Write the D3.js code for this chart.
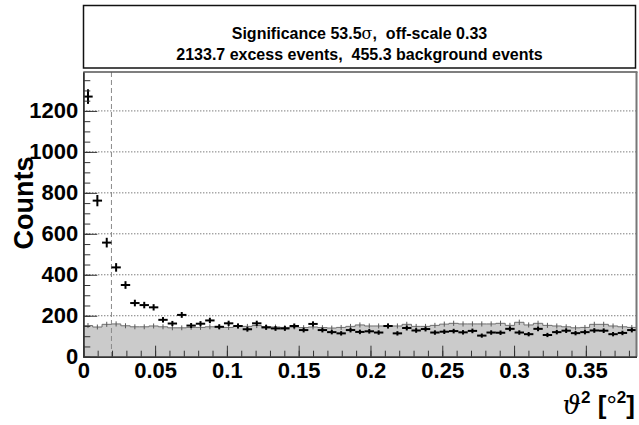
<!DOCTYPE html>
<html>
<head>
<meta charset="utf-8">
<script src="https://cdn.jsdelivr.net/npm/d3@7"></script>
<style>
  html, body { margin: 0; padding: 0; background: #fff; }
  svg { display: block; }
  text { font-family: "Liberation Sans", Arial, Helvetica, sans-serif; font-weight: bold; fill: #000; white-space: pre; }
</style>
</head>
<body>
<svg id="chart" width="639" height="425"></svg>
<script>
// θ² distribution: ON events (crosses) over the scaled OFF background (grey histogram)
const binWidth = 0.00653;   // deg² per bin
const onCounts = [
  1270, 762, 557, 436, 350, 262, 252, 241, 180, 162,
  204, 152, 161, 177, 146, 163, 150, 134, 163, 143,
  138, 138, 150, 130, 160, 130, 120, 114, 130, 121,
  124, 118, 150, 114, 140, 128, 135, 118, 122, 125,
  119, 126, 103, 118, 117, 136, 118, 110, 136, 106,
  120, 127, 115, 120, 128, 127, 110, 116, 130
];
const bgCounts = [
  152, 145, 158, 160, 151, 146, 146, 150, 146, 141,
  141, 143, 143, 146, 146, 143, 150, 148, 152, 147,
  145, 143, 145, 142, 145, 142, 140, 143, 148, 155,
  150, 150, 150, 150, 158, 148, 148, 153, 159, 163,
  160, 160, 160, 160, 163, 153, 168, 155, 163, 153,
  150, 146, 141, 143, 158, 158, 150, 146, 143
];
const cutThetaSq = 0.0196;
const yMax = 1390;
const yTickValues = [0, 200, 400, 600, 800, 1000, 1200];
const yTickLabels = ["0", "200", "400", "600", "800", "1000", "1200"];
const yMinorValues = d3.range(0, 1351, 50);
const xTickValues = [0, 0.05, 0.1, 0.15, 0.2, 0.25, 0.3, 0.35];
const xTickLabels = ["0", "0.05", "0.1", "0.15", "0.2", "0.25", "0.3", "0.35"];
const xMinorValues = d3.range(0, 0.381, 0.01);

const svg = d3.select("#chart");
const frameLeft = 83.3, frameRight = 636.5, frameTop = 72, frameBottom = 356.7;
const nBins = onCounts.length;

const x = d3.scaleLinear().domain([0, binWidth * nBins]).range([frameLeft, frameRight]);
const y = d3.scaleLinear().domain([0, yMax]).range([frameBottom, frameTop]);

// title box
const box = svg.append("g");
box.append("rect")
  .attr("x", 83.5).attr("y", 5.5).attr("width", 552).attr("height", 62.5)
  .attr("fill", "#fff").attr("stroke", "#111").attr("stroke-width", 1.5);
const t1 = box.append("text").attr("x", 359.5).attr("y", 38.6)
  .attr("text-anchor", "middle").style("font-size", "16px");
t1.append("tspan").text("Significance 53.5");
t1.append("tspan").text("σ").style("font-family", "'DejaVu Serif', serif").style("font-weight", "normal");
t1.append("tspan").text(",  off-scale 0.33");
box.append("text").attr("x", 359.5).attr("y", 59.6)
  .attr("text-anchor", "middle").style("font-size", "16px")
  .text("2133.7 excess events,  455.3 background events");

// horizontal dotted grid
svg.append("g").selectAll("line")
  .data(yTickValues.filter(v => v > 0))
  .join("line")
  .attr("x1", frameLeft).attr("x2", frameRight)
  .attr("y1", d => y(d)).attr("y2", d => y(d))
  .attr("stroke", "#444").attr("stroke-width", 1)
  .attr("stroke-dasharray", "1,2");

// background histogram as filled steps
const steps = [];
bgCounts.forEach((v, i) => {
  steps.push({ t: i * binWidth, v });
  steps.push({ t: (i + 1) * binWidth, v });
});
svg.append("path")
  .datum(steps)
  .attr("d", d3.area().x(d => x(d.t)).y0(y(0)).y1(d => y(d.v)))
  .attr("fill", "#cbcbcb");
svg.append("path")
  .datum(steps)
  .attr("d", d3.line().x(d => x(d.t)).y(d => y(d.v)))
  .attr("fill", "none").attr("stroke", "#6e6e6e").attr("stroke-width", 1);

// background error bars
svg.append("g").selectAll("line")
  .data(bgCounts)
  .join("line")
  .attr("x1", (d, i) => x((i + 0.5) * binWidth)).attr("x2", (d, i) => x((i + 0.5) * binWidth))
  .attr("y1", d => y(d - Math.sqrt(d))).attr("y2", d => y(d + Math.sqrt(d)))
  .attr("stroke", "#5a5a5a").attr("stroke-width", 1);

// cut position
svg.append("line")
  .attr("x1", x(cutThetaSq)).attr("x2", x(cutThetaSq))
  .attr("y1", frameTop).attr("y2", frameBottom)
  .attr("stroke", "#8a8a8a").attr("stroke-width", 1)
  .attr("stroke-dasharray", "5,3");

// ON data crosses
const on = svg.append("g").attr("stroke", "#000").attr("stroke-width", 2);
on.selectAll("line.h")
  .data(onCounts)
  .join("line").attr("class", "h")
  .attr("x1", (d, i) => x(i * binWidth)).attr("x2", (d, i) => x((i + 1) * binWidth))
  .attr("y1", d => y(d)).attr("y2", d => y(d));
on.selectAll("line.v")
  .data(onCounts)
  .join("line").attr("class", "v")
  .attr("x1", (d, i) => x((i + 0.5) * binWidth)).attr("x2", (d, i) => x((i + 0.5) * binWidth))
  .attr("y1", d => y(d - Math.sqrt(d))).attr("y2", d => y(d + Math.sqrt(d)));

// frame top and right
svg.append("line").attr("x1", frameLeft).attr("x2", frameRight + 1).attr("y1", frameTop).attr("y2", frameTop)
  .attr("stroke", "#555").attr("stroke-width", 1.5);
svg.append("line").attr("x1", frameRight).attr("x2", frameRight).attr("y1", frameTop).attr("y2", frameBottom)
  .attr("stroke", "#777").attr("stroke-width", 2);

// y axis
const yAxis = svg.append("g").attr("transform", `translate(${frameLeft},0)`);
yAxis.call(d3.axisLeft(y).tickValues(yMinorValues).tickSize(-7).tickSizeOuter(0).tickFormat(""));
yAxis.append("g").call(d3.axisLeft(y).tickValues(yTickValues).tickSize(-14).tickSizeOuter(0).tickPadding(5)
  .tickFormat((d, i) => yTickLabels[i]));
yAxis.selectAll("path").attr("stroke", "#333").attr("stroke-width", 1.5);
yAxis.selectAll("line").attr("stroke", "#333").attr("stroke-width", 1);
yAxis.selectAll("text").style("font-size", "22px").style("font-family", "'Liberation Sans', Arial, sans-serif").style("font-weight", "bold");

// x axis
const xAxis = svg.append("g").attr("transform", `translate(0,${frameBottom})`);
xAxis.call(d3.axisBottom(x).tickValues(xMinorValues).tickSize(-6).tickSizeOuter(0).tickFormat(""));
xAxis.append("g").call(d3.axisBottom(x).tickValues(xTickValues).tickSize(-11).tickSizeOuter(0).tickPadding(6)
  .tickFormat((d, i) => xTickLabels[i]));
xAxis.selectAll("path").attr("stroke", "#333").attr("stroke-width", 1.5);
xAxis.selectAll("line").attr("stroke", "#333").attr("stroke-width", 1);
xAxis.selectAll("text").style("font-size", "22px").style("font-family", "'Liberation Sans', Arial, sans-serif").style("font-weight", "bold");

// axis titles
svg.append("text")
  .attr("transform", "translate(33,203) rotate(-90)")
  .attr("text-anchor", "middle").style("font-size", "27px")
  .text("Counts");
const xt = svg.append("text").attr("x", 635).attr("y", 414)
  .attr("text-anchor", "end").style("font-size", "26px");
xt.append("tspan").text("ϑ").style("font-family", "'DejaVu Serif', serif").style("font-weight", "normal").style("font-style", "italic");
xt.append("tspan").text("2").attr("dy", -11).style("font-size", "17px");
xt.append("tspan").text(" [").attr("dy", 11);
xt.append("tspan").text("°").style("font-weight", "normal");
xt.append("tspan").text("2").attr("dy", -11).style("font-size", "17px");
xt.append("tspan").text("]").attr("dy", 11);
</script>
</body>
</html>
